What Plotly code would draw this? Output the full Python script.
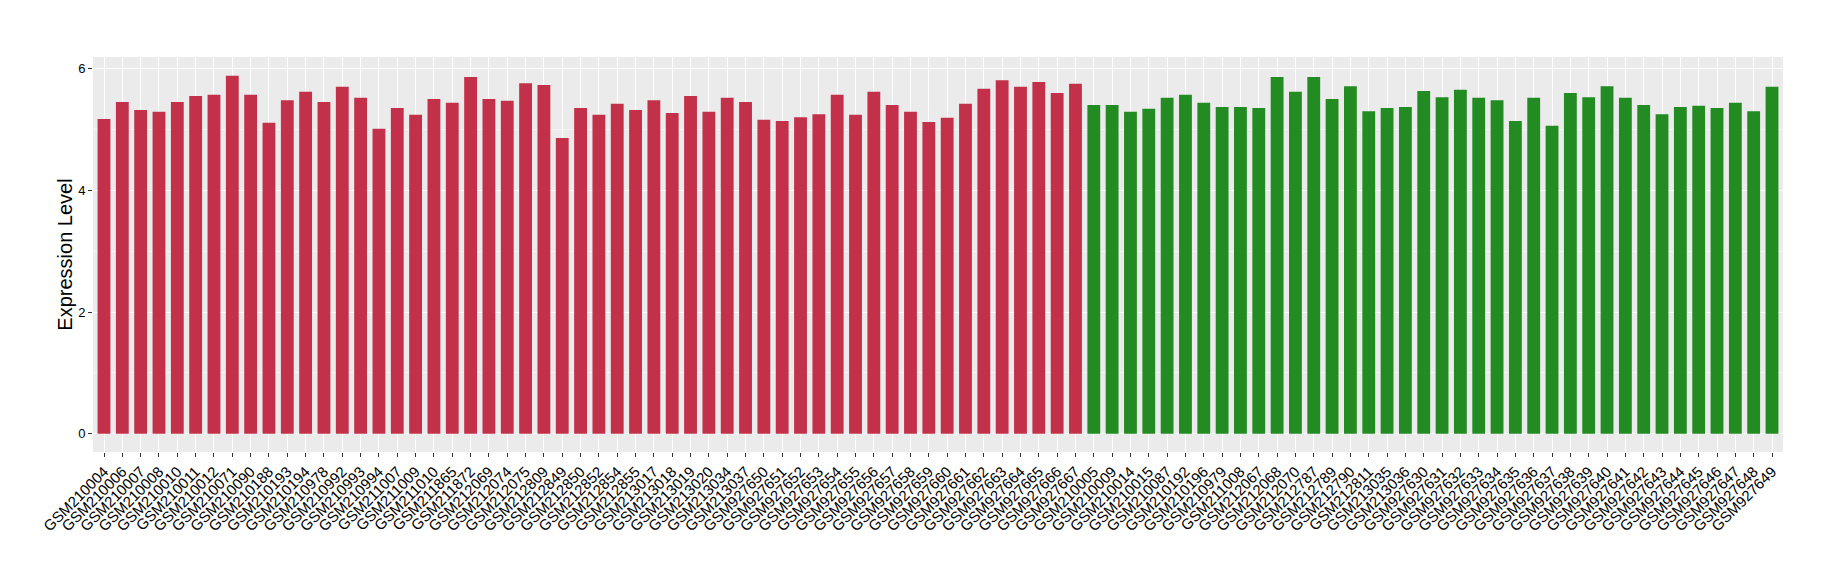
import plotly.graph_objects as go

RED = "#C23049"
GREEN = "#228B22"

# group 1 (red)
red_samples = [
    "GSM210004", "GSM210006", "GSM210007", "GSM210008", "GSM210010", "GSM210011",
    "GSM210012", "GSM210071", "GSM210090", "GSM210188", "GSM210193", "GSM210194",
    "GSM210978", "GSM210992", "GSM210993", "GSM210994", "GSM211007", "GSM211009",
    "GSM211010", "GSM211865", "GSM211872", "GSM212069", "GSM212074", "GSM212075",
    "GSM212809", "GSM212849", "GSM212850", "GSM212852", "GSM212854", "GSM212855",
    "GSM213017", "GSM213018", "GSM213019", "GSM213020", "GSM213034", "GSM213037",
    "GSM927650", "GSM927651", "GSM927652", "GSM927653", "GSM927654", "GSM927655",
    "GSM927656", "GSM927657", "GSM927658", "GSM927659", "GSM927660", "GSM927661",
    "GSM927662", "GSM927663", "GSM927664", "GSM927665", "GSM927666", "GSM927667",
]
red_values = [
    5.17, 5.45, 5.32, 5.29, 5.45, 5.55, 5.57, 5.88, 5.57, 5.11, 5.48, 5.62,
    5.45, 5.70, 5.52, 5.01, 5.35, 5.24, 5.50, 5.44, 5.86, 5.50, 5.47, 5.76,
    5.73, 4.86, 5.35, 5.24, 5.42, 5.32, 5.48, 5.27, 5.55, 5.29, 5.52, 5.45,
    5.16, 5.14, 5.20, 5.25, 5.57, 5.24, 5.62, 5.40, 5.29, 5.12, 5.19, 5.42,
    5.67, 5.81, 5.70, 5.78, 5.60, 5.75,
]

# group 2 (green)
green_samples = [
    "GSM210005", "GSM210009", "GSM210014", "GSM210015", "GSM210087", "GSM210192",
    "GSM210196", "GSM210979", "GSM211008", "GSM212067", "GSM212068", "GSM212070",
    "GSM212787", "GSM212789", "GSM212790", "GSM212811", "GSM213035", "GSM213036",
    "GSM927630", "GSM927631", "GSM927632", "GSM927633", "GSM927634", "GSM927635",
    "GSM927636", "GSM927637", "GSM927638", "GSM927639", "GSM927640", "GSM927641",
    "GSM927642", "GSM927643", "GSM927644", "GSM927645", "GSM927646", "GSM927647",
    "GSM927648", "GSM927649",
]
green_values = [
    5.40, 5.40, 5.29, 5.34, 5.52, 5.57, 5.44, 5.37, 5.37, 5.35, 5.86, 5.62,
    5.86, 5.50, 5.71, 5.30, 5.35, 5.37, 5.63, 5.53, 5.65, 5.52, 5.48, 5.14,
    5.52, 5.06, 5.60, 5.53, 5.71, 5.52, 5.40, 5.25, 5.37, 5.39, 5.35, 5.44,
    5.30, 5.70,
]

samples = red_samples + green_samples
values = red_values + green_values
colors = [RED] * len(red_samples) + [GREEN] * len(green_samples)

fig = go.Figure(
    go.Bar(
        x=samples,
        y=values,
        marker=dict(color=colors, line=dict(width=0)),
        hovertemplate="<b>%{x}</b><br>Expression: %{y:.2f}<extra></extra>",
    )
)

# margins account for the 8px default body margin of the page
fig.update_layout(
    width=1840,
    height=580,
    bargap=0.3,
    showlegend=False,
    paper_bgcolor="white",
    plot_bgcolor="#EBEBEB",
    font=dict(family="Liberation Sans, Arial, sans-serif", color="black"),
    margin=dict(l=85, r=65, t=49, b=136, autoexpand=False),
    xaxis=dict(
        type="category",
        range=[-0.6, len(samples) - 0.4],
        tickangle=-45,
        tickfont=dict(size=15, color="black"),
        ticks="outside",
        ticklen=4,
        tickcolor="#333333",
        showgrid=True,
        gridcolor="white",
        gridwidth=1.2,
        zeroline=False,
        showline=False,
        automargin=False,
    ),
    yaxis=dict(
        title=dict(text="Expression Level", font=dict(size=20, color="black"), standoff=0),
        range=[-0.3, 6.19],
        tickvals=[0, 2, 4, 6],
        tickfont=dict(size=13, color="black"),
        ticks="outside",
        ticklen=4,
        tickcolor="#333333",
        showgrid=True,
        gridcolor="white",
        gridwidth=1.2,
        minor=dict(tickvals=[1, 3, 5], showgrid=True, gridcolor="#F4F4F4", gridwidth=0.8, ticks=""),
        zeroline=False,
        showline=False,
        automargin=False,
    ),
)

fig.write_html("out.html")
